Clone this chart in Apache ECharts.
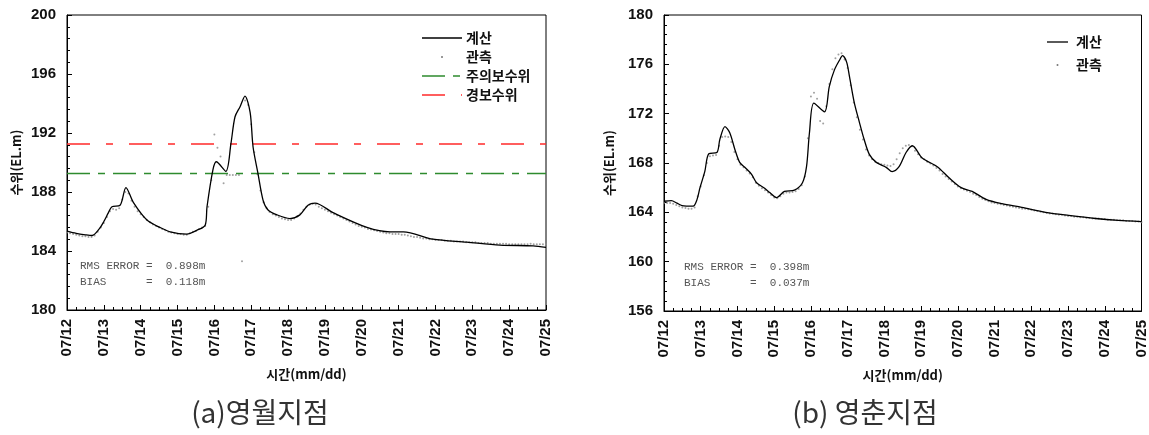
<!DOCTYPE html>
<html>
<head>
<meta charset="utf-8">
<script src="https://cdn.jsdelivr.net/npm/echarts@6/dist/echarts.min.js"></script>
<style>
  html, body { margin: 0; padding: 0; background: #fff; }
  #chart { width: 1149px; height: 435px; }
</style>
</head>
<body>
<div id="chart"></div>
<script>
// Day tick labels along both time axes (x = days since 07/12 00:00)
const dayLabels = ['07/12', '07/13', '07/14', '07/15', '07/16', '07/17', '07/18',
                   '07/19', '07/20', '07/21', '07/22', '07/23', '07/24', '07/25'];

// (a) 영월지점 — simulated stage (time in days, level in EL.m)
const calcTimeA = [0, 0.25, 0.5, 0.68, 0.875, 1.0, 1.125, 1.22, 1.44, 1.6, 1.8, 2.17, 2.52, 2.8,
                   3.25, 3.52, 3.75, 3.8, 3.96, 4.05, 4.31, 4.45, 4.56, 4.7, 4.83, 4.97, 5.05,
                   5.18, 5.32, 5.45, 5.7, 6.05, 6.32, 6.54, 6.73, 7.22, 8.14, 8.77, 9.13, 9.93,
                   10.85, 11.75, 12.65, 13.0];
const calcLevelA = [185.35, 185.2, 185.1, 185.05, 185.5, 186.0, 186.6, 187.0, 187.1, 188.3, 187.3,
                    186.1, 185.6, 185.3, 185.15, 185.4, 185.75, 187.0, 189.5, 190.05, 189.4, 191.3,
                    193.1, 193.8, 194.5, 193.4, 191.05, 189.3, 187.45, 186.8, 186.45, 186.2, 186.45,
                    187.1, 187.25, 186.6, 185.6, 185.3, 185.3, 184.8, 184.6, 184.4, 184.35, 184.25];

// (a) observed stage, every 2 hours from 07/12 00:00 (one row per day)
const obsLevelA = [
  185.25, 185.2, 185.15, 185.1, 185.05, 185.0, 185.0, 184.95, 184.95, 185.05, 185.3, 185.6,
  185.9, 186.3, 186.7, 186.85, 186.8, 186.9, 187.5, 188.0, 187.9, 187.4, 187.0, 186.7,
  186.5, 186.3, 186.1, 185.95, 185.8, 185.7, 185.6, 185.5, 185.4, 185.3, 185.25, 185.2,
  185.15, 185.15, 185.1, 185.1, 185.2, 185.3, 185.35, 185.5, 185.6, 185.7, 187.0, 188.8,
  191.9, 191.0, 190.4, 188.6, 189.15, 189.15, 189.15, 189.15, 189.15, 183.3, 194.2, 193.9,
  192.6, 190.7, 189.2, 188.1, 187.3, 186.9, 186.65, 186.5, 186.4, 186.3, 186.2, 186.15,
  186.1, 186.1, 186.2, 186.35, 186.55, 186.8, 187.0, 187.15, 187.2, 187.15, 187.0, 186.9,
  186.8, 186.7, 186.6, 186.5, 186.4, 186.3, 186.2, 186.1, 186.0, 185.9, 185.8, 185.7,
  185.65, 185.6, 185.5, 185.45, 185.4, 185.35, 185.3, 185.25, 185.2, 185.2, 185.15, 185.15,
  185.15, 185.1, 185.1, 185.05, 185.0, 184.95, 184.95, 184.9, 184.85, 184.85, 184.8, 184.8,
  184.75, 184.75, 184.75, 184.7, 184.7, 184.7, 184.65, 184.65, 184.65, 184.65, 184.6, 184.6,
  184.6, 184.6, 184.55, 184.55, 184.55, 184.55, 184.5, 184.5, 184.5, 184.5, 184.5, 184.5,
  184.45, 184.45, 184.45, 184.45, 184.45, 184.45, 184.45, 184.5, 184.45, 184.45, 184.45, 184.45,
  184.45
];

// (a) flood stages
const watchLevelA = 189.25;   // 주의보수위
const warnLevelA = 191.25;    // 경보수위

// (b) 영춘지점 — simulated stage
const calcTimeB = [0, 0.2, 0.35, 0.49, 0.79, 0.9, 0.98, 1.11, 1.22, 1.44, 1.52, 1.66, 1.79, 1.93,
                   2.06, 2.2, 2.38, 2.52, 2.74, 2.88, 3.06, 3.28, 3.55, 3.77, 3.88, 3.96, 4.08,
                   4.37, 4.5, 4.64, 4.78, 4.86, 4.97, 5.05, 5.18, 5.32, 5.45, 5.59, 5.78, 6.05,
                   6.21, 6.4, 6.59, 6.76, 7.03, 7.44, 7.76, 8.09, 8.39, 8.77, 9.2, 9.74, 10.39,
                   11.02, 11.75, 12.37, 13.0];
const calcLevelB = [164.9, 164.95, 164.75, 164.55, 164.5, 165.05, 166.0, 167.3, 168.75, 168.85,
                    169.9, 170.95, 170.45, 169.1, 168.05, 167.65, 167.1, 166.4, 165.95, 165.6,
                    165.2, 165.7, 165.8, 166.4, 167.7, 170.45, 172.85, 172.15, 174.2, 175.55,
                    176.35, 176.7, 176.2, 175.0, 172.9, 171.3, 169.9, 168.7, 168.05, 167.65,
                    167.3, 167.7, 168.85, 169.4, 168.4, 167.7, 166.8, 166.0, 165.7, 165.05,
                    164.7, 164.4, 164.0, 163.75, 163.5, 163.35, 163.25];

// (b) observed stage, every 2 hours from 07/12 00:00 (one row per day)
const obsLevelB = [
  164.75, 164.75, 164.75, 164.7, 164.6, 164.5, 164.4, 164.35, 164.3, 164.3, 164.4, 165.3,
  166.1, 167.0, 168.0, 168.55, 168.6, 168.65, 169.4, 170.1, 170.15, 170.1, 169.7, 168.9,
  168.3, 167.85, 167.65, 167.4, 167.15, 166.85, 166.4, 166.15, 165.95, 165.8, 165.6, 165.4,
  165.2, 165.15, 165.3, 165.5, 165.6, 165.6, 165.65, 165.7, 165.9, 166.2, 166.9, 170.0,
  173.4, 173.7, 173.2, 171.4, 171.2, 172.6, 174.4, 175.6, 176.5, 176.8, 176.9, 176.4,
  175.7, 174.3, 172.9, 171.7, 170.7, 169.9, 169.1, 168.6, 168.3, 168.1, 168.0, 167.9,
  167.85, 167.8, 167.75, 167.9, 168.3, 168.8, 169.2, 169.4, 169.45, 169.35, 169.0, 168.7,
  168.45, 168.3, 168.1, 167.95, 167.8, 167.6, 167.4, 167.1, 166.9, 166.7, 166.5, 166.3,
  166.1, 165.95, 165.85, 165.75, 165.65, 165.5, 165.4, 165.25, 165.1, 165.0, 164.9, 164.8,
  164.75, 164.7, 164.65, 164.6, 164.55, 164.5, 164.45, 164.4, 164.35, 164.3, 164.3, 164.25,
  164.2, 164.15, 164.1, 164.05, 164.0, 163.95, 163.9, 163.9, 163.85, 163.8, 163.8, 163.75,
  163.7, 163.7, 163.65, 163.65, 163.6, 163.6, 163.55, 163.55, 163.5, 163.5, 163.5, 163.45,
  163.45, 163.4, 163.4, 163.4, 163.35, 163.35, 163.35, 163.3, 163.3, 163.3, 163.25, 163.25,
  163.2
];

// Error statistics printed inside each panel
const statsA = ['RMS ERROR =  0.898m', 'BIAS      =  0.118m'];
const statsB = ['RMS ERROR =  0.398m', 'BIAS      =  0.037m'];

const OBS_STEP = 1 / 12;   // 2-hour sampling of the gauge record
const TEXT_FONT = '"Noto Sans CJK KR", "Liberation Sans", sans-serif';
const NUM_FONT = '"Liberation Sans", Arial, sans-serif';
const MONO_FONT = '"Liberation Mono", "DejaVu Sans Mono", monospace';
const WATCH_DASH = [23, 8, 7, 8];
const WARN_DASH = [23, 16, 7, 16];

const pairs = (xs, ys) => xs.map((x, i) => [x, ys[i]]);
const sampled = (ys) => ys.map((v, i) => [i * OBS_STEP, v]);

function xAxisFor(gridIndex) {
  return {
    gridIndex, type: 'value', min: 0, max: 13, interval: 1,
    name: '시간(mm/dd)', nameLocation: 'middle', nameGap: 58,
    nameTextStyle: { fontFamily: TEXT_FONT, fontWeight: 'bold', fontSize: 13, color: '#111' },
    axisLine: { lineStyle: { color: '#000', width: 1 } },
    axisTick: { inside: true, length: 5, lineStyle: { color: '#000' } },
    minorTick: { show: true, splitNumber: 4, length: 3, lineStyle: { color: '#000' } },
    splitLine: { show: false },
    axisLabel: {
      rotate: 90, margin: 9, fontFamily: NUM_FONT, fontWeight: 'bold', fontSize: 15, color: '#111',
      formatter: (v) => dayLabels[Math.round(v)] || ''
    }
  };
}

function yAxisFor(gridIndex, min, max, nameGap) {
  return {
    gridIndex, type: 'value', min, max, interval: 4,
    name: '수위(EL.m)', nameLocation: 'middle', nameRotate: 90, nameGap,
    nameTextStyle: { fontFamily: TEXT_FONT, fontWeight: 'bold', fontSize: 13, color: '#111' },
    axisLine: { show: true, lineStyle: { color: '#000', width: 1 } },
    axisTick: { inside: true, length: 5, lineStyle: { color: '#000' } },
    minorTick: { show: true, splitNumber: 5, length: 3, lineStyle: { color: '#000' } },
    splitLine: { show: false },
    axisLabel: { margin: 11, fontFamily: NUM_FONT, fontWeight: 'bold', fontSize: 15, color: '#111' }
  };
}

function levelLine(name, level, color, dash, axisIdx) {
  return {
    name, type: 'line', xAxisIndex: axisIdx, yAxisIndex: axisIdx,
    data: [[0, level], [13, level]], showSymbol: false, silent: true,
    lineStyle: { color, width: 1.5, type: dash }
  };
}

function statsText(x, y, lines) {
  return lines.map((t, i) => ({
    type: 'text', left: x, top: y + i * 16, silent: true,
    style: { text: t, font: '11px ' + MONO_FONT, fill: '#555' }
  }));
}

function legendRow(x, y, lineLen, textX, label, sample) {
  const items = [];
  if (sample.kind === 'line') {
    items.push({
      type: 'line', silent: true,
      shape: { x1: x, y1: y, x2: x + lineLen, y2: y },
      style: { stroke: sample.color, lineWidth: sample.width, lineDash: sample.dash || null }
    });
  } else {
    items.push({
      type: 'circle', silent: true,
      shape: { cx: x + lineLen / 2, cy: y, r: 1 },
      style: { fill: '#777' }
    });
  }
  items.push({
    type: 'text', silent: true, x: textX, y: y,
    style: { text: label, font: 'bold 14px ' + TEXT_FONT, fill: '#111', verticalAlign: 'middle' }
  });
  return items;
}

const chart = echarts.init(document.getElementById('chart'), null, { renderer: 'canvas' });

const option = {
  animation: false,
  backgroundColor: '#fff',
  grid: [
    { left: 67, top: 15, width: 479, height: 295, show: true, borderColor: '#000', borderWidth: 1, backgroundColor: 'transparent' },
    { left: 664, top: 15, width: 479, height: 296, show: true, borderColor: '#000', borderWidth: 1, backgroundColor: 'transparent' }
  ],
  xAxis: [xAxisFor(0), xAxisFor(1)],
  yAxis: [yAxisFor(0, 180, 200, 44), yAxisFor(1, 156, 180, 48)],
  title: [
    { text: '(a)영월지점', left: 255, top: 393, textAlign: 'center',
      textStyle: { fontFamily: TEXT_FONT, fontWeight: 'normal', fontSize: 28, color: '#333' } },
    { text: '(b) 영춘지점', left: 860, top: 393, textAlign: 'center',
      textStyle: { fontFamily: TEXT_FONT, fontWeight: 'normal', fontSize: 28, color: '#333' } }
  ],
  series: [
    levelLine('주의보수위', watchLevelA, '#2e8b2e', WATCH_DASH, 0),
    levelLine('경보수위', warnLevelA, '#ff2a2a', WARN_DASH, 0),
    {
      name: '관측', type: 'scatter', xAxisIndex: 0, yAxisIndex: 0,
      data: sampled(obsLevelA), symbol: 'circle', symbolSize: 2, silent: true,
      itemStyle: { color: '#8a8a8a' }
    },
    {
      name: '계산', type: 'line', xAxisIndex: 0, yAxisIndex: 0,
      data: pairs(calcTimeA, calcLevelA), showSymbol: false, smooth: 0.3, silent: true,
      lineStyle: { color: '#000', width: 1.3 }
    },
    {
      name: '관측', type: 'scatter', xAxisIndex: 1, yAxisIndex: 1,
      data: sampled(obsLevelB), symbol: 'circle', symbolSize: 2, silent: true,
      itemStyle: { color: '#8a8a8a' }
    },
    {
      name: '계산', type: 'line', xAxisIndex: 1, yAxisIndex: 1,
      data: pairs(calcTimeB, calcLevelB), showSymbol: false, smooth: 0.3, silent: true,
      lineStyle: { color: '#000', width: 1.3 }
    }
  ],
  graphic: [
    ...statsText(80, 261, statsA),
    ...statsText(684, 262, statsB),
    ...legendRow(422, 38, 40, 466, '계산', { kind: 'line', color: '#000', width: 1.3 }),
    ...legendRow(422, 57, 40, 466, '관측', { kind: 'dot' }),
    ...legendRow(422, 76, 38, 466, '주의보수위', { kind: 'line', color: '#2e8b2e', width: 1.5, dash: WATCH_DASH }),
    ...legendRow(422, 95, 40, 466, '경보수위', { kind: 'line', color: '#ff2a2a', width: 1.5, dash: WARN_DASH }),
    ...legendRow(1047, 42, 21, 1076, '계산', { kind: 'line', color: '#000', width: 1.3 }),
    ...legendRow(1047, 65, 21, 1076, '관측', { kind: 'dot' })
  ]
};

chart.setOption(option);
</script>
</body>
</html>
